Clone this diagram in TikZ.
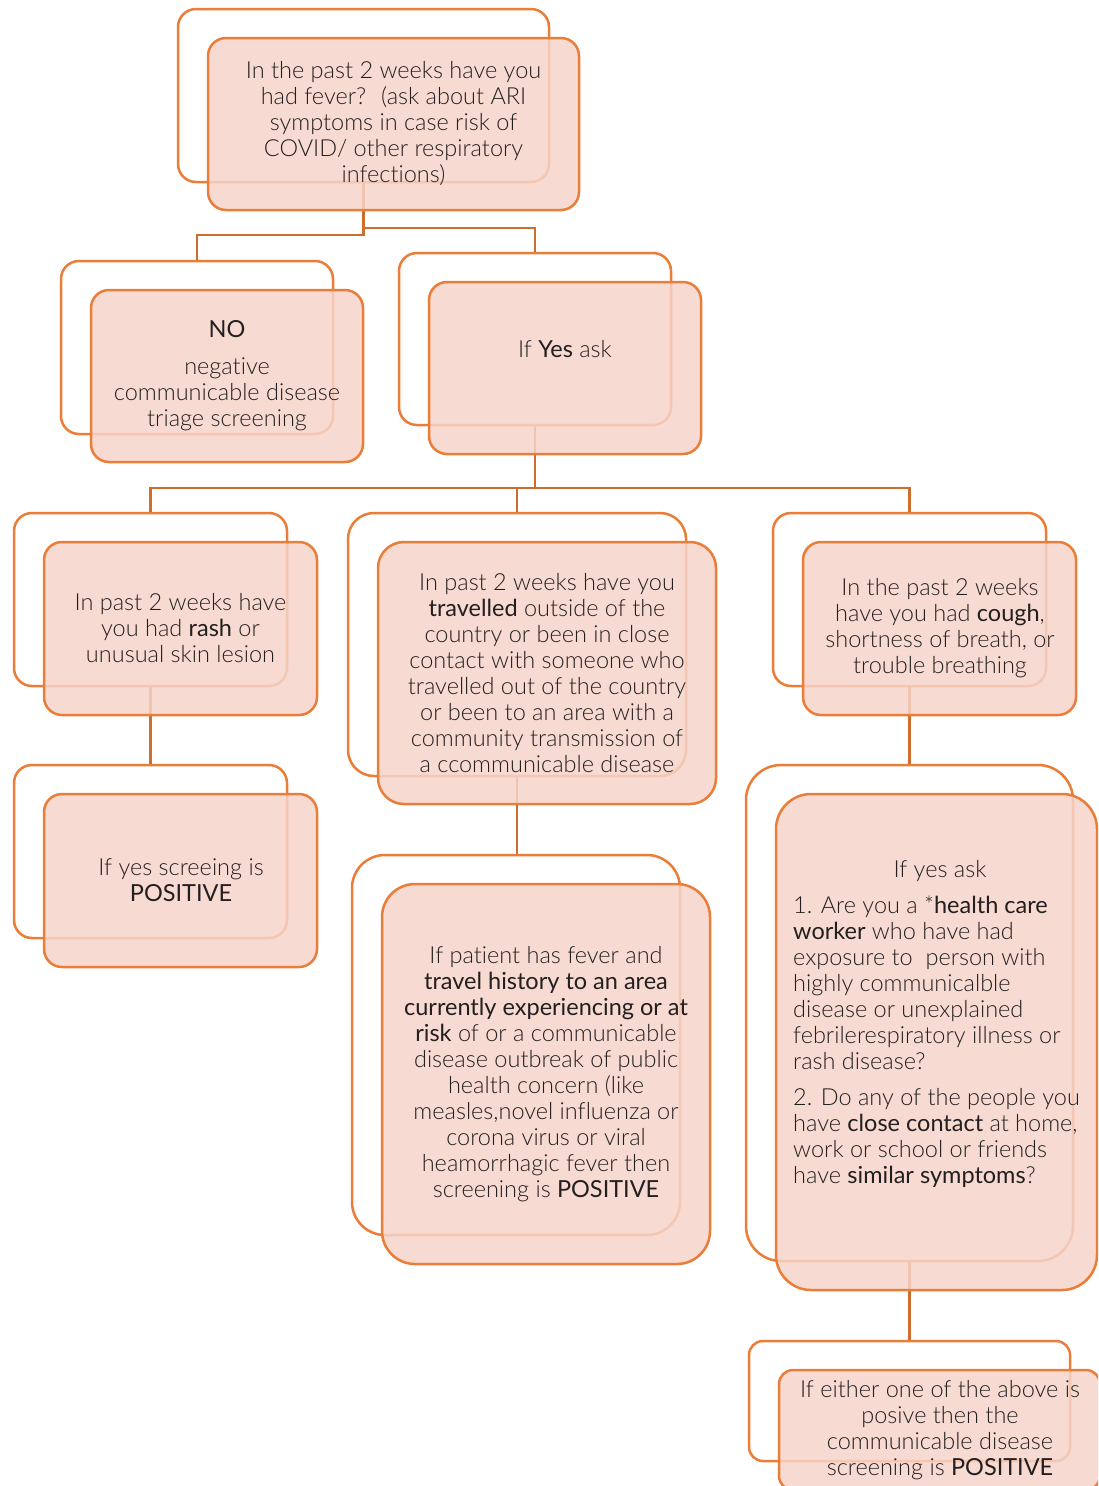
\documentclass[tikz,border=0pt]{standalone}
\usepackage{fontspec}
\setmainfont{Lato Light}[BoldFont={Lato}, Ligatures={NoCommon}]
\definecolor{bord}{RGB}{234,125,55}
\definecolor{fillc}{RGB}{246,212,201}
\definecolor{conn}{RGB}{205,110,45}
\definecolor{txt}{RGB}{35,31,32}
\tikzset{
  backbox/.style={draw=bord, line width=2.5pt, fill=white, rectangle, inner sep=0pt},
  frontbox/.style={draw=bord, line width=2.5pt, fill=fillc, fill opacity=0.85, rectangle, inner sep=0pt},
  conline/.style={draw=conn, line width=2.5pt},
  txtnode/.style={align=center, text=txt, inner sep=0pt, font=\fontsize{23.5}{26}\selectfont}
}
\begin{document}
\begin{tikzpicture}[x=1pt,y=-1pt]
\clip (0,0) rectangle (1098,1486);
\fill[white] (0,0) rectangle (1098,1486);
% back boxes
\node[backbox, rounded corners=18pt, minimum width=371pt, minimum height=173pt] (b1) at (363.5,95.5) {};
\node[backbox, rounded corners=18pt, minimum width=272pt, minimum height=173pt] (b2) at (197,347.5) {};
\node[backbox, rounded corners=18pt, minimum width=272pt, minimum height=172pt] (b3) at (535,339) {};
\node[backbox, rounded corners=18pt, minimum width=273pt, minimum height=173pt] (b4) at (150.5,599.5) {};
\node[backbox, rounded corners=26pt, minimum width=338pt, minimum height=263pt] (b5) at (517,644.5) {};
\node[backbox, rounded corners=18pt, minimum width=273pt, minimum height=173pt] (b6) at (909.5,599.5) {};
\node[backbox, rounded corners=18pt, minimum width=273pt, minimum height=173pt] (b7) at (150.5,851.5) {};
\node[backbox, rounded corners=33pt, minimum width=328pt, minimum height=380pt] (b8) at (516,1045) {};
\node[backbox, rounded corners=35pt, minimum width=327pt, minimum height=496pt] (b9) at (909.5,1013) {};
\node[backbox, rounded corners=14pt, minimum width=321pt, minimum height=120pt] (b10) at (909.5,1401) {};
% connectors
\coordinate (j1) at (363.5,235);
\coordinate (j1b) at (363.5,228);
\coordinate (j2) at (535,488);
\draw[conline] (b1.south) -- (j1) -| (b2.north);
\draw[conline] (b1.south) -- (j1b) -| (b3.north);
\draw[conline] (b3.south) -- (j2) -| (b4.north);
\draw[conline] (b3.south) -- (j2) -| (b5.north);
\draw[conline] (b3.south) -- (j2) -| (b6.north);
\draw[conline] (b4.south) -- (b7.north);
\draw[conline] (b5.south) -- (b5.south |- b8.north);
\draw[conline] (b6.south) -- (b9.north);
\draw[conline] (b9.south) -- (b10.north);
% front boxes
\node[frontbox, rounded corners=18pt, minimum width=371pt, minimum height=172pt] (f1) at (393.5,124) {};
\node[frontbox, rounded corners=18pt, minimum width=272pt, minimum height=172pt] (f2) at (227,376) {};
\node[frontbox, rounded corners=18pt, minimum width=272pt, minimum height=172pt] (f3) at (565,368) {};
\node[frontbox, rounded corners=18pt, minimum width=273pt, minimum height=173pt] (f4) at (180.5,628.5) {};
\node[frontbox, rounded corners=26pt, minimum width=338pt, minimum height=262pt] (f5) at (547,673) {};
\node[frontbox, rounded corners=18pt, minimum width=273pt, minimum height=173pt] (f6) at (939.5,628.5) {};
\node[frontbox, rounded corners=18pt, minimum width=273pt, minimum height=173pt] (f7) at (180.5,880.5) {};
\node[frontbox, rounded corners=33pt, minimum width=328pt, minimum height=380pt] (f8) at (546,1074) {};
\node[frontbox, rounded corners=35pt, minimum width=321pt, minimum height=496pt] (f9) at (936.5,1042) {};
\node[frontbox, rounded corners=14pt, minimum width=321pt, minimum height=120pt] (f10) at (939.5,1430) {};
% texts
\node[txtnode] (t1) at (393.5,124) {In the past 2 weeks have you\\had fever?~ (ask about ARI\\symptoms in case risk of\\COVID/ other respiratory\\infections)};
\node[txtnode] (t2) at (227,376) {\textbf{NO}\\[11pt]negative\\communicable disease\\triage screening};
\node[txtnode] (t3) at (565,349) {If \textbf{Yes} ask};
\node[txtnode] (t4) at (180.5,628) {In past 2 weeks have\\you had \textbf{rash} or\\unusual skin lesion};
\node[txtnode] (t5) at (547,673) {In past 2 weeks have you\\\textbf{travelled} outside of the\\country or been in close\\contact with someone who\\travelled out of the country\\or been to an area with a\\community transmission of\\a ccommunicable disease};
\node[txtnode] (t6) at (940,628) {In the past 2 weeks\\have you had \textbf{cough},\\shortness of breath, or\\trouble breathing};
\node[txtnode] (t7) at (181,880) {If yes screeing is\\\textbf{POSITIVE}};
\node[txtnode] (t8) at (546,1074) {If patient has fever and\\\textbf{travel history to an area}\\\textbf{currently experiencing or at}\\\textbf{risk} of or a communicable\\disease outbreak of public\\health concern (like\\measles,novel influenza or\\corona virus or viral\\heamorrhagic fever then\\screening is \textbf{POSITIVE}};
\node[txtnode] (t9) at (940,871) {If yes ask};
\node[txtnode, align=left, anchor=west] (t10) at (793,1042) {1. Are you a *\textbf{health care}\\\textbf{worker} who have had\\exposure to~ person with\\highly communicalble\\disease or unexplained\\febrilerespiratory illness or\\rash disease?\\[10pt]2. Do any of the people you\\have \textbf{close contact} at home,\\work or school or friends\\have \textbf{similar symptoms}?};
\node[txtnode] (t11) at (940,1430) {If either one of the above is\\posive then the\\communicable disease\\screening is \textbf{POSITIVE}};
\end{tikzpicture}
\end{document}
